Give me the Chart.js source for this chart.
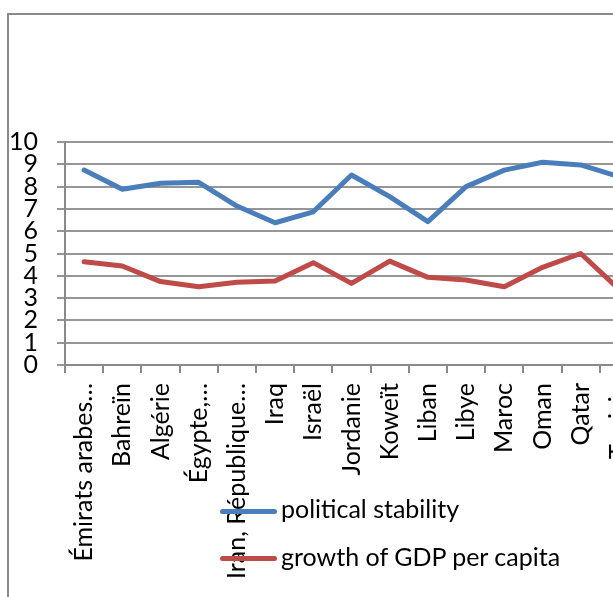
<!DOCTYPE html>
<html><head><meta charset="utf-8">
<script src="https://cdn.jsdelivr.net/npm/chart.js@4"></script>
<style>
html,body{margin:0;padding:0;background:#fff;overflow:hidden;width:613px;height:597px;}
#frame{position:absolute;left:7px;top:13px;width:800px;height:800px;border:2px solid #8a8a8a;box-sizing:border-box;}
#wrap{position:absolute;left:0;top:0;width:660px;height:597px;}
.legline{position:absolute;left:220px;width:57px;height:5px;border-radius:3px;}
.legtext{position:absolute;left:281px;font-family:Lato;font-size:25px;color:#000;line-height:30px;white-space:nowrap;}
</style></head>
<body>
<div id="frame"></div>
<div id="wrap"><canvas id="c" width="660" height="597"></canvas></div>
<div class="legline" style="top:509px;background:#4a7ebb"></div>
<div class="legtext" style="top:493px">political stability</div>
<div class="legline" style="top:556px;background:#be4b48"></div>
<div class="legtext" style="top:541px">growth of GDP per capita</div>
<script>
const categories = ["Émirats arabes…","Bahreïn","Algérie","Égypte,…","Iran, République…","Iraq","Israël","Jordanie","Koweït","Liban","Libye","Maroc","Oman","Qatar","Tunisie"];
const politicalStability = [8.74,7.88,8.15,8.19,7.13,6.38,6.87,8.52,7.55,6.43,8.0,8.74,9.09,8.97,8.45];
const gdpGrowth = [4.63,4.44,3.74,3.51,3.71,3.77,4.59,3.66,4.66,3.93,3.81,3.51,4.38,5.0,3.4];
const yTicks = [0,1,2,3,4,5,6,7,8,9,10];

function draw(){
  const ctx = document.getElementById('c').getContext('2d');
  new Chart(ctx,{
    type:'line',
    data:{labels:categories,datasets:[
      {label:'political stability',data:politicalStability,borderColor:'#4a7ebb',borderWidth:5,pointRadius:0,tension:0,fill:false,borderCapStyle:'round',borderJoinStyle:'round'},
      {label:'growth of GDP per capita',data:gdpGrowth,borderColor:'#be4b48',borderWidth:5,pointRadius:0,tension:0,fill:false,borderCapStyle:'round',borderJoinStyle:'round'}
    ]},
    options:{
      responsive:false,animation:false,devicePixelRatio:1,
      layout:{padding:{left:0,top:142,right:22,bottom:0}},
      plugins:{legend:{display:false},tooltip:{enabled:false}},
      scales:{
        x:{offset:true,
          grid:{drawOnChartArea:false,drawTicks:true,tickLength:8,color:'#8a8a8a',lineWidth:2,offset:true},
          border:{color:'#8a8a8a',width:2},
          ticks:{font:{family:'Lato',size:25},color:'#000',maxRotation:90,minRotation:90,padding:10,autoSkip:false},
          afterFit:(s)=>{s.height=232;}
        },
        y:{min:0,max:10,
          afterBuildTicks:(s)=>{s.ticks=yTicks.map(v=>({value:v}));},
          ticks:{font:{family:'Lato',size:25},color:'#000',padding:19,autoSkip:false},
          grid:{color:'#969696',lineWidth:2,tickLength:8},
          border:{color:'#8a8a8a',width:2},
          afterFit:(s)=>{s.width=65;}
        }
      }
    }
  });
}
if (document.fonts && document.fonts.load) {
  document.fonts.load('25px Lato').then(draw, draw);
} else draw();
</script>
</body></html>
